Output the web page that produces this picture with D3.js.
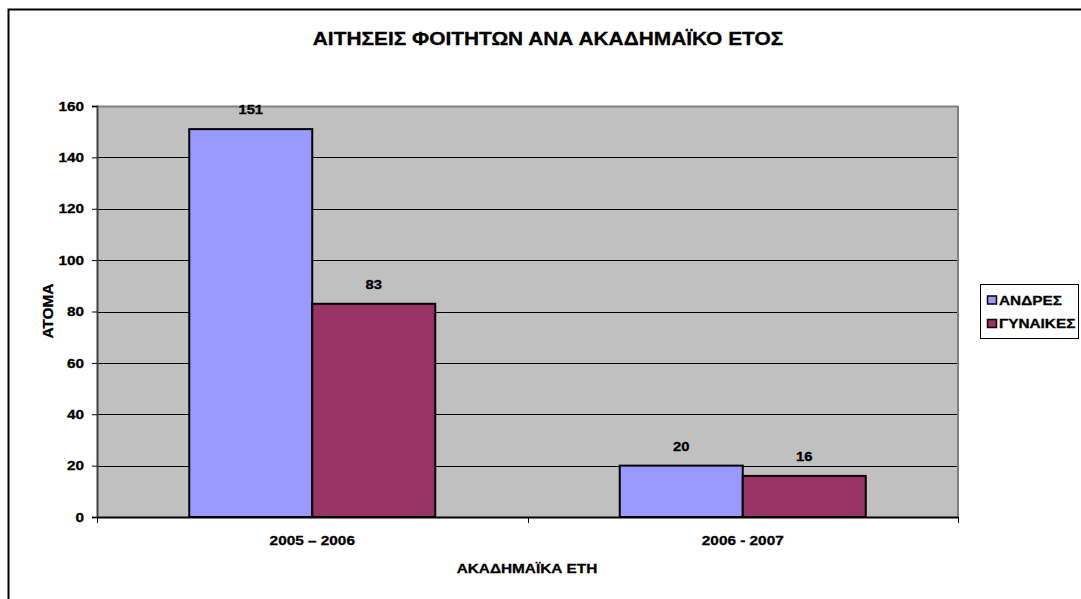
<!DOCTYPE html>
<html><head><meta charset="utf-8">
<script src="https://cdn.jsdelivr.net/npm/d3@7"></script>
<style>body{margin:0;background:#fff}svg{display:block}</style>
</head><body><svg id="c" width="1081" height="599"></svg>
<script>
const categories = ["2005 – 2006", "2006 - 2007"];
const seriesNames = ["ΑΝΔΡΕΣ", "ΓΥΝΑΙΚΕΣ"];
const men = [151, 20];
const women = [83, 16];
const yTicks = [0, 20, 40, 60, 80, 100, 120, 140, 160];
const colors = ["#9999FF", "#993366"];
const title = "ΑΙΤΗΣΕΙΣ ΦΟΙΤΗΤΩΝ ΑΝΑ ΑΚΑΔΗΜΑΪΚΟ ΕΤΟΣ";
const yTitle = "ΑΤΟΜΑ";
const xTitle = "ΑΚΑΔΗΜΑΪΚΑ ΕΤΗ";

const FONT = "'Liberation Sans', Arial, Helvetica, sans-serif";
const STRETCH = 1.18;
function bold(sel, size) {
  return sel.style("font-family", FONT).style("font-weight", "700").style("font-size", size + "px")
    .style("fill", "#000").style("stroke", "#000").style("stroke-width", "0.3px");
}
function stretch(sel, k) {
  sel.each(function () {
    const w = this.getComputedTextLength();
    d3.select(this).attr("textLength", w * k).attr("lengthAdjust", "spacingAndGlyphs");
  });
  return sel;
}

const svg = d3.select("#c");
const L = 97, R = 958, T = 106, B = 517;

svg.append("rect").attr("x", 8.5).attr("y", 9.5).attr("width", 1200).attr("height", 700)
  .attr("fill", "#fff").attr("stroke", "#000").attr("stroke-width", 2);

svg.append("rect").attr("x", L).attr("y", T).attr("width", R - L).attr("height", B - T)
  .attr("fill", "#C0C0C0");

const y = d3.scaleLinear().domain([0, 160]).range([B, T]);
const x = d3.scaleBand().domain(categories).range([L, R]).paddingInner(0).paddingOuter(0);
const barW = x.bandwidth() / 3.5;
const off = x.bandwidth() * 0.75 / 3.5;

svg.append("g").selectAll("line").data(yTicks.filter(d => d > 0 && d < 160)).join("line")
  .attr("x1", L).attr("x2", R).attr("y1", d => Math.round(y(d)) + 0.5).attr("y2", d => Math.round(y(d)) + 0.5)
  .attr("stroke", "#000").attr("stroke-width", 1);
svg.append("line").attr("x1", L).attr("x2", R).attr("y1", T + 0.5).attr("y2", T + 0.5).attr("stroke", "#808080").attr("stroke-width", 2);
svg.append("line").attr("x1", R).attr("x2", R).attr("y1", T).attr("y2", B).attr("stroke", "#808080").attr("stroke-width", 2);

const data = [];
categories.forEach((c, i) => {
  data.push({ c, s: 0, v: men[i] });
  data.push({ c, s: 1, v: women[i] });
});
svg.append("g").selectAll("rect").data(data).join("rect")
  .attr("x", d => x(d.c) + off + d.s * barW)
  .attr("y", d => y(d.v))
  .attr("width", barW)
  .attr("height", d => B - y(d.v))
  .attr("fill", d => colors[d.s])
  .attr("stroke", "#000").attr("stroke-width", 2);

stretch(bold(svg.append("g").selectAll("text").data(data).join("text")
  .attr("x", d => x(d.c) + off + d.s * barW + barW / 2)
  .attr("y", d => y(d.v) - 15)
  .attr("text-anchor", "middle")
  .text(d => d.v), 12.5), STRETCH);

const yAxis = d3.axisLeft(y).tickValues(yTicks).tickSize(5).tickPadding(8);
const gy = svg.append("g").attr("transform", `translate(${L},0)`).call(yAxis);
gy.select(".domain").attr("stroke", "#404040").attr("stroke-width", 2);
gy.selectAll(".tick line").attr("stroke", "#000");
stretch(bold(gy.selectAll("text"), 13), STRETCH);

const xAxis = d3.axisBottom(x).tickSize(0).tickPadding(19);
const gx = svg.append("g").attr("transform", `translate(0,${B})`).call(xAxis);
gx.select(".domain").attr("stroke", "#000").attr("stroke-width", 2);
stretch(bold(gx.selectAll("text"), 13), STRETCH);
const bounds = categories.map(c => x(c)).concat([x(categories[categories.length - 1]) + x.bandwidth()]);
svg.append("g").selectAll("line").data(bounds).join("line")
  .attr("x1", d => Math.round(d) + 0.5).attr("x2", d => Math.round(d) + 0.5)
  .attr("y1", B).attr("y2", B + 6).attr("stroke", "#000");

stretch(bold(svg.append("text").attr("x", 548).attr("y", 45).attr("text-anchor", "middle").text(title), 17.7), STRETCH);
bold(svg.append("text").attr("transform", `translate(53,311) rotate(-90)`).attr("text-anchor", "middle")
  .attr("textLength", 55).attr("lengthAdjust", "spacingAndGlyphs").text(yTitle), 15);
stretch(bold(svg.append("text").attr("x", 527).attr("y", 573).attr("text-anchor", "middle").text(xTitle), 13), STRETCH);

const lg = svg.append("g");
lg.append("rect").attr("x", 980.5).attr("y", 284.5).attr("width", 98).attr("height", 54)
  .attr("fill", "#fff").attr("stroke", "#000").attr("stroke-width", 1);
seriesNames.forEach((s, i) => {
  const yy = 300 + i * 23.5;
  lg.append("rect").attr("x", 987.5).attr("y", yy - 4).attr("width", 9).attr("height", 8)
    .attr("fill", colors[i]).attr("stroke", "#000").attr("stroke-width", 1.5);
  stretch(bold(lg.append("text").attr("x", 999).attr("y", yy + 4.5).text(s), 13), STRETCH);
});
</script></body></html>
